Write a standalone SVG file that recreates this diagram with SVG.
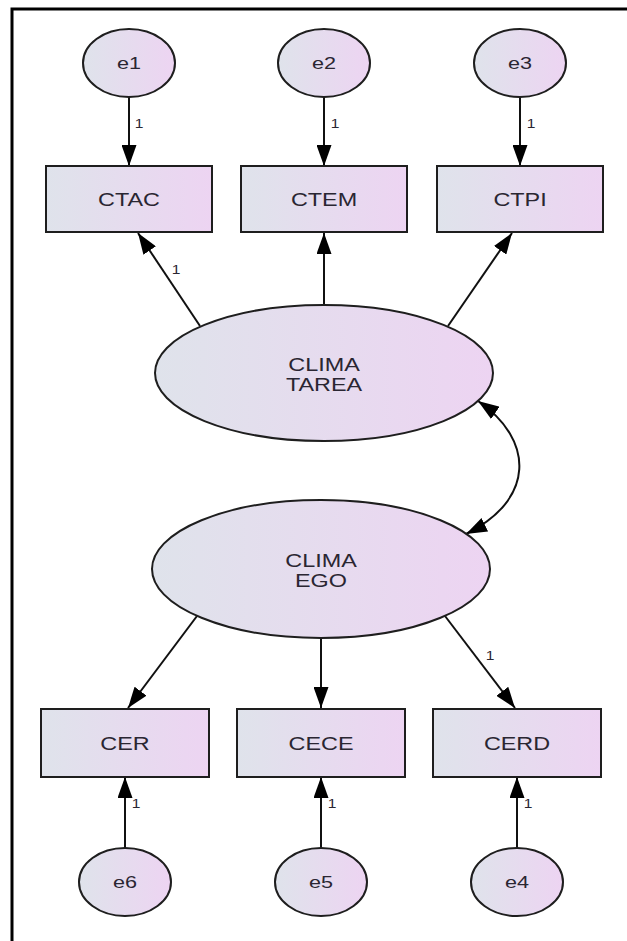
<svg xmlns="http://www.w3.org/2000/svg" width="627" height="941" viewBox="0 0 627 941">
<style>
  .node { fill: url(#fillGrad); stroke: #1e1e1e; stroke-width: 2; }
  .lbl { font-family: "Liberation Sans", Arial, sans-serif; font-size: 18px; fill: #2a2632; text-anchor: middle; }
  .elbl { font-family: "Liberation Sans", Arial, sans-serif; font-size: 16px; fill: #2a2632; text-anchor: middle; }
  .one { font-family: "Liberation Sans", Arial, sans-serif; font-size: 13px; fill: #2a2632; text-anchor: middle; }
  .edge { fill: none; stroke: #111; stroke-width: 2; marker-end: url(#arrow); }
  .frame { stroke: #000; stroke-width: 3; fill: none; }
</style>
<defs>
  <linearGradient id="fillGrad" x1="0" y1="0" x2="1" y2="0">
    <stop offset="0" stop-color="#dfe3eb"/>
    <stop offset="1" stop-color="#edd4f2"/>
  </linearGradient>
  <marker id="arrow" markerUnits="userSpaceOnUse" markerWidth="21" markerHeight="15" refX="21" refY="7.5" orient="auto-start-reverse">
    <path d="M0,0 L21,7.5 L0,15 z" fill="#000"/>
  </marker>
</defs>
<rect width="627" height="941" fill="#fff"/>
<path class="frame" d="M12,941 L12,9 L627,9"/>

<g id="connectors">
  <line class="edge" x1="129" y1="97" x2="129" y2="166"/>
  <line class="edge" x1="324" y1="97" x2="324" y2="166"/>
  <line class="edge" x1="520" y1="97" x2="520" y2="166"/>
  <line class="edge" x1="200" y1="326" x2="138" y2="233"/>
  <line class="edge" x1="324" y1="305" x2="324" y2="233"/>
  <line class="edge" x1="448" y1="326" x2="512" y2="233"/>
  <path class="edge" d="M478,401 C535,440 535,500 466,534" marker-start="url(#arrow)"/>
  <line class="edge" x1="197" y1="616" x2="128" y2="708"/>
  <line class="edge" x1="321" y1="638" x2="321" y2="708"/>
  <line class="edge" x1="445" y1="616" x2="515" y2="708"/>
  <line class="edge" x1="125" y1="848" x2="125" y2="777"/>
  <line class="edge" x1="321" y1="848" x2="321" y2="777"/>
  <line class="edge" x1="517" y1="848" x2="517" y2="777"/>
  <text class="one" transform="translate(139,128) scale(1.2,1)">1</text>
  <text class="one" transform="translate(335,128) scale(1.2,1)">1</text>
  <text class="one" transform="translate(531,128) scale(1.2,1)">1</text>
  <text class="one" transform="translate(176,274) scale(1.2,1)">1</text>
  <text class="one" transform="translate(490,660) scale(1.2,1)">1</text>
  <text class="one" transform="translate(136,808) scale(1.2,1)">1</text>
  <text class="one" transform="translate(332,808) scale(1.2,1)">1</text>
  <text class="one" transform="translate(528,808) scale(1.2,1)">1</text>
</g>

<g id="e1"><ellipse class="node" cx="129" cy="63" rx="46" ry="34"/><text class="elbl" transform="translate(129,69) scale(1.35,1)">e1</text></g>
<g id="e2"><ellipse class="node" cx="324" cy="63" rx="46" ry="34"/><text class="elbl" transform="translate(324,69) scale(1.35,1)">e2</text></g>
<g id="e3"><ellipse class="node" cx="520" cy="63" rx="46" ry="34"/><text class="elbl" transform="translate(520,69) scale(1.35,1)">e3</text></g>

<g id="CTAC"><rect class="node" x="46" y="166" width="166" height="66"/><text class="lbl" transform="translate(129,206) scale(1.3,1)">CTAC</text></g>
<g id="CTEM"><rect class="node" x="241" y="166" width="166" height="66"/><text class="lbl" transform="translate(324,206) scale(1.3,1)">CTEM</text></g>
<g id="CTPI"><rect class="node" x="437" y="166" width="166" height="66"/><text class="lbl" transform="translate(520,206) scale(1.3,1)">CTPI</text></g>

<g id="CLIMA_TAREA"><ellipse class="node" cx="324" cy="373" rx="169" ry="68"/><text class="lbl" transform="translate(324,371) scale(1.3,1)">CLIMA</text><text class="lbl" transform="translate(324,391) scale(1.3,1)">TAREA</text></g>
<g id="CLIMA_EGO"><ellipse class="node" cx="321" cy="569" rx="169" ry="69"/><text class="lbl" transform="translate(321,567) scale(1.3,1)">CLIMA</text><text class="lbl" transform="translate(321,587) scale(1.3,1)">EGO</text></g>

<g id="CER"><rect class="node" x="41" y="709" width="168" height="68"/><text class="lbl" transform="translate(125,750) scale(1.3,1)">CER</text></g>
<g id="CECE"><rect class="node" x="237" y="709" width="168" height="68"/><text class="lbl" transform="translate(321,750) scale(1.3,1)">CECE</text></g>
<g id="CERD"><rect class="node" x="433" y="709" width="168" height="68"/><text class="lbl" transform="translate(517,750) scale(1.3,1)">CERD</text></g>

<g id="e6"><ellipse class="node" cx="125" cy="882" rx="46" ry="34"/><text class="elbl" transform="translate(125,888) scale(1.35,1)">e6</text></g>
<g id="e5"><ellipse class="node" cx="321" cy="882" rx="46" ry="34"/><text class="elbl" transform="translate(321,888) scale(1.35,1)">e5</text></g>
<g id="e4"><ellipse class="node" cx="517" cy="882" rx="46" ry="34"/><text class="elbl" transform="translate(517,888) scale(1.35,1)">e4</text></g>
</svg>
